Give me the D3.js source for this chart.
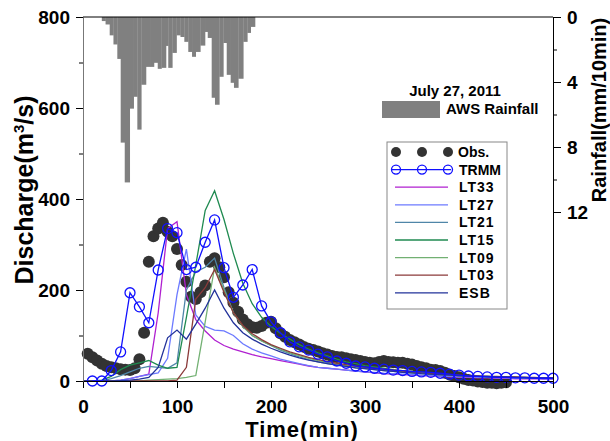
<!DOCTYPE html>
<html>
<head>
<meta charset="utf-8">
<script src="https://cdn.jsdelivr.net/npm/d3@7"></script>
<style>
  body { margin: 0; background: #fff; }
  text { font-family: "Liberation Sans", Arial, sans-serif; font-weight: bold; }
</style>
</head>
<body>
<div id="chart"></div>
<script>
// rainfall (AWS), start of each bar in minutes and depth in mm/10min
var rainTime = [20, 24, 28.4, 32.4, 36.5, 40.1, 44.4, 49.7, 53.9, 57.8, 62, 67, 71.3, 75.5, 79.5, 83.5,
  88.3, 90.7, 95, 99.5, 103.7, 107.8, 112, 116, 119.9, 124.8, 129.8, 132.7, 136.9, 140.4, 145, 149.3,
  152.9, 157.1, 160.6, 165.2, 170.5, 174.8, 178.4, 183];
var rain = [0.25, 0.46, 1.13, 1.69, 2.58, 7.73, 10.18, 5.64, 4.91, 6.93, 4.17, 3.07, 3.07, 2.82, 3.19, 3.13,
  1.78, 3.13, 2.21, 1.13, 1.23, 1.53, 2.15, 2.45, 2.15, 1.76, 0.92, 1.29, 4.97, 5.4, 3.68, 1.6,
  3.56, 4.05, 4.36, 3.8, 1.53, 0.98, 0.61];

// observed discharge, every 5 min from 5 to 450
var obsTime = [5, 10, 15, 20, 25, 30, 35, 40, 45, 50, 55, 60, 65, 70, 75, 80, 85, 90, 95, 100,
  105, 110, 115, 120, 125, 130, 135, 140, 145, 150, 155, 160, 165, 170, 175, 180, 185, 190, 195, 200,
  205, 210, 215, 220, 225, 230, 235, 240, 245, 250, 255, 260, 265, 270, 275, 280, 285, 290, 295, 300,
  305, 310, 315, 320, 325, 330, 335, 340, 345, 350, 355, 360, 365, 370, 375, 380, 385, 390, 395, 400,
  405, 410, 415, 420, 425, 430, 435, 440, 445, 450];
var obs = [60, 52, 45, 38, 33, 30, 28, 26, 25, 24, 28, 48, 106, 262, 318, 335, 348, 328, 318, 290,
  255, 218, 185, 180, 195, 210, 262, 270, 250, 228, 195, 172, 152, 135, 125, 118, 117, 121, 128, 130,
  116, 105, 97, 90, 85, 80, 75, 71, 68, 65, 61, 58, 55, 53, 52, 50, 48, 46, 44, 42,
  40, 39, 42, 44, 42, 41, 40, 40, 38, 36, 33, 30, 28, 25, 24, 22, 18, 14, 11, 8,
  5, 2, 1, -1, -2, -4, -4, -5, -4, -3];

// simulated series, every 10 min from 0 to 500
var simTime = [0, 10, 20, 30, 40, 50, 60, 70, 80, 90, 100, 110, 120, 130, 140, 150, 160, 170, 180, 190,
  200, 210, 220, 230, 240, 250, 260, 270, 280, 290, 300, 310, 320, 330, 340, 350, 360, 370, 380, 390,
  400, 410, 420, 430, 440, 450, 460, 470, 480, 490, 500];
var trmm = [null, 0, 0, 23, 64, 194, 163, 128, 244, 335, 326, 245, 250, 305, 354, 249, 184, 211, 245, 165,
  130, 106, 86, 75, 68, 59, 53, 44, 39, 33, 31, 28, 26, 24, 23, 21, 20, 19, 17, 15,
  13, 11, 10, 9, 8, 8, 7, 7, 6, 6, 6];
var lt33 = [0, 0, 0, 0, 2, 5, 10, 15, 150, 335, 350, 190, 135, 110, 90, 78, 70, 64, 58, 53,
  49, 45, 41, 37, 33, 30, 28, 26, 24, 22, 20, 18, 16, 15, 14, 13, 12, 11, 10, 9,
  8, 8, 7, 7, 6, 6, 5, 5, 5, 4, 4];
var lt27 = [0, 0, 0, 0, 2, 5, 10, 14, 18, 50, 190, 290, 145, 120, 112, 110, 100, 82, 70, 62,
  55, 48, 43, 38, 34, 30, 28, 26, 24, 22, 20, 19, 17, 16, 15, 14, 13, 12, 11, 10,
  9, 9, 8, 8, 7, 7, 6, 6, 6, 5, 5];
var lt21 = [0, 0, 0, 5, 12, 20, 28, 32, 30, 28, 40, 200, 240, 250, 270, 205, 150, 120, 100, 88,
  78, 68, 60, 53, 47, 42, 38, 35, 32, 29, 27, 25, 23, 21, 19, 18, 16, 15, 14, 13,
  12, 11, 10, 10, 9, 9, 8, 8, 7, 7, 6];
var lt15 = [0, 0, 2, 10, 25, 35, 40, 45, 35, 28, 30, 140, 255, 375, 418, 355, 280, 215, 170, 140,
  120, 105, 92, 80, 70, 62, 55, 48, 42, 38, 34, 31, 28, 25, 23, 21, 19, 17, 15, 14,
  12, 11, 10, 9, 9, 8, 8, 7, 7, 6, 6];
var lt09 = [0, 0, 0, 0, 0, 0, 0, 2, 3, 4, 5, 8, 12, 130, 250, 200, 150, 120, 100, 88,
  78, 70, 62, 56, 50, 45, 41, 37, 34, 31, 28, 26, 24, 22, 20, 18, 17, 16, 14, 13,
  12, 11, 10, 10, 9, 9, 8, 8, 7, 7, 6];
var lt03 = [0, 0, 0, 0, 0, 0, 0, 0, 0, 0, 2, 30, 180, 205, 245, 195, 150, 122, 104, 91,
  80, 72, 64, 58, 52, 47, 43, 39, 36, 33, 30, 28, 26, 24, 22, 20, 18, 17, 15, 14,
  13, 12, 11, 10, 10, 9, 9, 8, 8, 7, 7];
var esb = [0, 0, 0, 0, 1, 2, 4, 8, 30, 95, 112, 92, 125, 160, 200, 160, 128, 106, 92, 81,
  72, 64, 57, 51, 46, 42, 38, 35, 32, 29, 27, 25, 23, 21, 19, 18, 16, 15, 14, 13,
  12, 11, 10, 10, 9, 9, 8, 8, 7, 7, 6];

var seriesNames = ["LT33", "LT27", "LT21", "LT15", "LT09", "LT03", "ESB"];
var seriesValues = [lt33, lt27, lt21, lt15, lt09, lt03, esb];
var seriesColors = ["#b020d0", "#6c7aff", "#4f86a8", "#1f8a50", "#72b072", "#8b3a3a", "#22329a"];

var xTicks = [0, 100, 200, 300, 400, 500];
var yTicks = [0, 200, 400, 600, 800];
var rTicks = [0, 4, 8, 12];

var svgWidth = 610;
var svgHeight = 441;
var margin = { top: 17, right: 57, bottom: 60, left: 83 };
var width = svgWidth - margin.left - margin.right;
var height = svgHeight - margin.top - margin.bottom;

var svg = d3.select("#chart")
  .append("svg")
  .attr("width", svgWidth)
  .attr("height", svgHeight);

var chartGroup = svg.append("g")
  .attr("transform", `translate(${margin.left}, ${margin.top})`);

var xScale = d3.scaleLinear().domain([0, 500]).range([0, width]);
var yScale = d3.scaleLinear().domain([0, 800]).range([height, 0]);
var rScale = d3.scaleLinear().domain([0, 22.4]).range([0, height]);

// rainfall bars hanging from the top
chartGroup.selectAll("rect.rain")
  .data(rain)
  .enter()
  .append("rect")
  .attr("class", "rain")
  .attr("x", (d, i) => xScale(rainTime[i]))
  .attr("y", 0)
  .attr("width", (d, i) => xScale(rainTime[i + 1]) - xScale(rainTime[i]) + 0.3)
  .attr("height", d => rScale(d))
  .attr("fill", "#808080");

// observed dots
chartGroup.selectAll("circle.obs")
  .data(obs)
  .enter()
  .append("circle")
  .attr("class", "obs")
  .attr("cx", (d, i) => xScale(obsTime[i]))
  .attr("cy", d => yScale(d))
  .attr("r", 6)
  .attr("fill", "#333333");

var line = d3.line()
  .defined(d => d[1] !== null)
  .x(d => xScale(d[0]))
  .y(d => yScale(d[1]));

seriesValues.forEach(function(vals, k) {
  chartGroup.append("path")
    .datum(simTime.map((t, i) => [t, vals[i]]))
    .attr("d", line)
    .attr("fill", "none")
    .attr("stroke", seriesColors[k])
    .attr("stroke-width", 1.3);
});

// TRMM line with open circles
var trmmData = simTime.map((t, i) => [t, trmm[i]]).filter(d => d[1] !== null);
chartGroup.append("path")
  .datum(trmmData)
  .attr("d", line)
  .attr("fill", "none")
  .attr("stroke", "#1010ff")
  .attr("stroke-width", 1.3);

chartGroup.selectAll("circle.trmm")
  .data(trmmData)
  .enter()
  .append("circle")
  .attr("class", "trmm")
  .attr("cx", d => xScale(d[0]))
  .attr("cy", d => yScale(d[1]))
  .attr("r", 5)
  .attr("fill", "none")
  .attr("stroke", "#1010ff")
  .attr("stroke-width", 1.3);

// axes
var xAxis = chartGroup.append("g")
  .attr("transform", `translate(0, ${height})`)
  .call(d3.axisBottom(xScale).tickValues(xTicks).tickSize(7).tickSizeOuter(0).tickPadding(12));
chartGroup.append("g")
  .attr("transform", `translate(0, ${height})`)
  .call(d3.axisBottom(xScale).tickValues([50, 150, 250, 350, 450]).tickSize(7).tickFormat(""))
  .select(".domain").remove();

var yAxis = chartGroup.append("g")
  .call(d3.axisLeft(yScale).tickValues(yTicks).tickSize(7).tickSizeOuter(0).tickPadding(6));
chartGroup.append("g")
  .call(d3.axisLeft(yScale).tickValues([100, 300, 500, 700]).tickSize(4).tickFormat(""))
  .select(".domain").remove();
yAxis.select(".domain").attr("stroke", "#777");

var rAxis = chartGroup.append("g")
  .attr("transform", `translate(${width}, 0)`)
  .call(d3.axisRight(rScale).tickValues(rTicks).tickSize(8).tickSizeOuter(0).tickPadding(6));
chartGroup.append("g")
  .attr("transform", `translate(${width}, 0)`)
  .call(d3.axisRight(rScale).tickValues([2, 6, 10]).tickSize(4).tickFormat(""))
  .select(".domain").remove();

// top frame
chartGroup.append("line")
  .attr("x1", 0).attr("x2", width)
  .attr("y1", 0).attr("y2", 0)
  .attr("stroke", "#000");

svg.selectAll(".tick text")
  .style("font-size", "19px")
  .style("font-family", "'Liberation Sans', Arial, sans-serif")
  .style("font-weight", "bold")
  .attr("fill", "#000");

// axis titles
svg.append("text")
  .attr("transform", "translate(33, 190) rotate(-90)")
  .attr("text-anchor", "middle")
  .style("font-size", "25px")
  .text("Discharge(m")
  .append("tspan").attr("dy", -9).style("font-size", "15px").text("3")
  .select(function() { return this.parentNode; })
  .append("tspan").attr("dy", 9).text("/s)");

svg.append("text")
  .attr("x", 302)
  .attr("y", 437)
  .attr("text-anchor", "middle")
  .style("font-size", "22px")
  .style("letter-spacing", "1px")
  .text("Time(min)");

svg.append("text")
  .attr("transform", "translate(606, 110) rotate(-90)")
  .attr("text-anchor", "middle")
  .style("font-size", "20px")
  .text("Rainfall(mm/10min)");

// rainfall legend
svg.append("text")
  .attr("x", 455).attr("y", 96)
  .attr("text-anchor", "middle")
  .style("font-size", "15px")
  .text("July 27, 2011");
svg.append("rect")
  .attr("x", 382).attr("y", 101)
  .attr("width", 58).attr("height", 17)
  .attr("fill", "#808080");
svg.append("text")
  .attr("x", 446).attr("y", 114)
  .style("font-size", "15px")
  .text("AWS Rainfall");

// discharge legend
var legend = svg.append("g");
legend.append("rect")
  .attr("x", 387).attr("y", 142)
  .attr("width", 120).attr("height", 167)
  .attr("fill", "#fff")
  .attr("stroke", "#888");

var legY0 = 152;
var legStep = 17.6;
var symX = [396, 422, 448];

symX.forEach(function(x) {
  legend.append("circle").attr("cx", x).attr("cy", legY0).attr("r", 5).attr("fill", "#333333");
});
legend.append("text").attr("x", 458).attr("y", legY0 + 5).style("font-size", "14px").text("Obs.");

legend.append("line")
  .attr("x1", 391).attr("x2", 451)
  .attr("y1", legY0 + legStep).attr("y2", legY0 + legStep)
  .attr("stroke", "#1010ff").attr("stroke-width", 1.3);
symX.forEach(function(x) {
  legend.append("circle").attr("cx", x).attr("cy", legY0 + legStep).attr("r", 4.5)
    .attr("fill", "none").attr("stroke", "#1010ff").attr("stroke-width", 1.3);
});
legend.append("text").attr("x", 459).attr("y", legY0 + legStep + 5).style("font-size", "14px").text("TRMM");

seriesNames.forEach(function(name, k) {
  var y = legY0 + legStep * (k + 2);
  legend.append("line")
    .attr("x1", 395).attr("x2", 448)
    .attr("y1", y).attr("y2", y)
    .attr("stroke", seriesColors[k]).attr("stroke-width", 1.3);
  legend.append("text")
    .attr("x", 459).attr("y", y + 5)
    .style("font-size", "14px")
    .style("letter-spacing", "1px")
    .text(name);
});
</script>
</body>
</html>
